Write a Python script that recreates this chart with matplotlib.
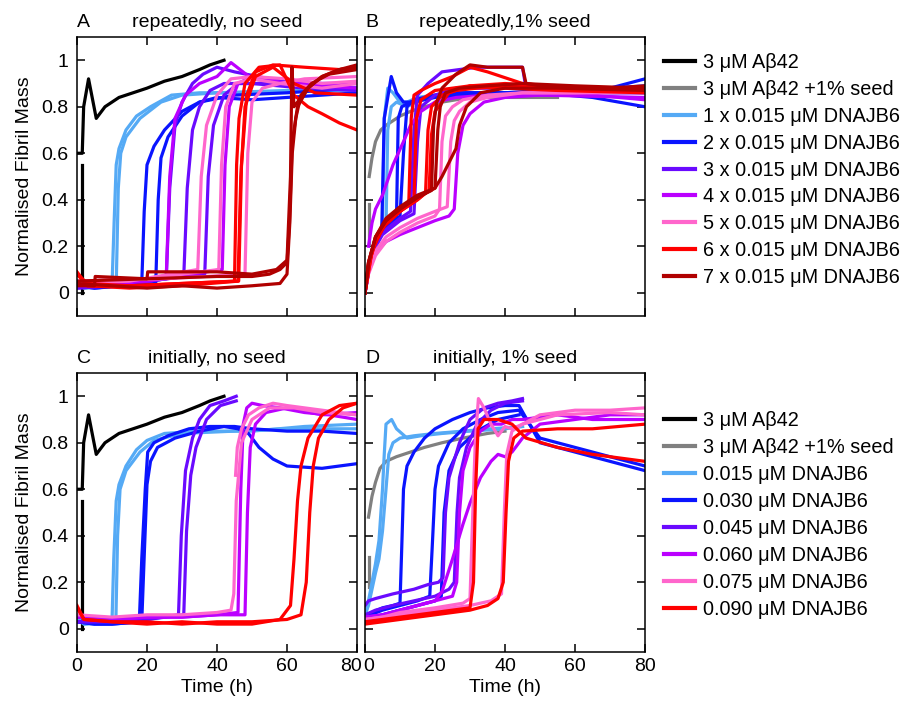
import matplotlib
matplotlib.use("Agg")
import numpy as np
import matplotlib.pyplot as plt
import matplotlib.transforms as mtransforms
from matplotlib.lines import Line2D

plt.rcParams['font.family'] = ['Liberation Sans', 'DejaVu Sans']
plt.rcParams['font.size'] = 14

colors = {
    'black': '#000000', 'gray': '#808080', 'lblue': '#55aaf5', 'blue': '#0a14ff',
    'violet': '#6a0aff', 'magenta': '#bb00ff', 'pink': '#ff66cc', 'red': '#ff0000',
    'dred': '#b00000',
}

# ---- panel A: repeatedly, no seed ----
black_t = [0, 1.5, 1.9, 3.3, 5.5, 8, 12, 16, 20, 25, 30, 35, 38, 42]
black_v = [0.6, 0.6, 0.8, 0.92, 0.75, 0.8, 0.84, 0.86, 0.88, 0.91, 0.93, 0.96, 0.98, 1.0]
black_stub_t = [1.4, 1.4]
black_stub_v = [0.0, 0.55]

panel_a = [
    ('black', black_t, black_v),
    ('black', black_stub_t, black_stub_v),
    ('lblue', [0, 2, 10.0, 10.6, 11.2, 12, 14, 17, 21, 27, 35, 50, 65, 80],
              [0.05, 0.02, 0.03, 0.3, 0.55, 0.62, 0.7, 0.76, 0.8, 0.85, 0.86, 0.86, 0.87, 0.87]),
    ('lblue', [0, 2, 11.2, 11.8, 12.5, 14, 18, 24, 30, 40, 60, 80],
              [0.04, 0.02, 0.03, 0.45, 0.6, 0.67, 0.75, 0.82, 0.85, 0.86, 0.87, 0.88]),
    ('blue', [0, 5, 18.5, 19.2, 20, 22, 25, 30, 35, 40, 50, 60, 70, 80],
             [0.03, 0.02, 0.04, 0.35, 0.55, 0.63, 0.7, 0.78, 0.82, 0.84, 0.83, 0.84, 0.85, 0.86]),
    ('blue', [0, 5, 22.5, 23.2, 24, 26, 30, 35, 45, 60, 80],
             [0.03, 0.02, 0.04, 0.4, 0.58, 0.67, 0.76, 0.82, 0.85, 0.86, 0.88]),
    ('violet', [0, 10, 25.5, 26.5, 28, 30, 33, 36, 40, 45, 55, 70, 80],
               [0.02, 0.03, 0.06, 0.45, 0.72, 0.82, 0.9, 0.94, 0.97, 0.95, 0.92, 0.9, 0.9]),
    ('violet', [0, 10, 30.5, 31.5, 33, 35, 38, 42, 50, 65, 80],
               [0.02, 0.03, 0.07, 0.45, 0.7, 0.8, 0.87, 0.9, 0.9, 0.88, 0.87]),
    ('violet', [0, 15, 36.5, 37.5, 39, 42, 46, 55, 70, 80],
               [0.03, 0.04, 0.08, 0.5, 0.72, 0.85, 0.9, 0.9, 0.89, 0.88]),
    ('magenta', [0, 10, 25.5, 26.5, 28, 31, 35, 40, 44, 50, 60, 80],
                [0.03, 0.03, 0.07, 0.5, 0.75, 0.85, 0.9, 0.93, 0.99, 0.92, 0.9, 0.88]),
    ('magenta', [0, 20, 41.5, 42.3, 43.5, 46, 50, 60, 80],
                [0.04, 0.05, 0.1, 0.55, 0.8, 0.9, 0.93, 0.9, 0.9]),
    ('pink', [0, 15, 34.5, 35.5, 37, 40, 44, 50, 60, 70, 80],
             [0.04, 0.05, 0.1, 0.5, 0.72, 0.85, 0.92, 0.93, 0.92, 0.9, 0.91]),
    ('pink', [0, 20, 40.5, 41.3, 42.5, 45, 50, 58, 70, 80],
             [0.05, 0.06, 0.1, 0.55, 0.8, 0.9, 0.92, 0.9, 0.88, 0.9]),
    ('pink', [0, 25, 48, 48.8, 50, 53, 58, 65, 80],
             [0.05, 0.06, 0.08, 0.6, 0.82, 0.88, 0.9, 0.92, 0.93]),
    ('red', [0, 3, 15, 30, 45, 45.6, 46.3, 48, 52, 58, 62, 66, 70, 75, 80],
            [0.09, 0.03, 0.03, 0.04, 0.05, 0.55, 0.75, 0.9, 0.97, 0.98, 0.85, 0.8, 0.77, 0.73, 0.7]),
    ('red', [0, 3, 15, 30, 46.2, 47, 48.5, 51, 56, 65, 75, 80],
            [0.08, 0.03, 0.02, 0.03, 0.05, 0.55, 0.85, 0.95, 0.98, 0.97, 0.96, 0.97]),
    ('red', [0, 3, 15, 30, 46, 46.8, 48, 51, 56, 62, 68, 80],
            [0.08, 0.04, 0.03, 0.04, 0.05, 0.5, 0.8, 0.93, 0.97, 0.9, 0.86, 0.85]),
    ('dred', [0, 10, 20, 30, 40, 50, 58, 60, 60.8, 61.5, 62.5, 64, 67, 72, 80],
             [0.04, 0.03, 0.02, 0.03, 0.02, 0.03, 0.04, 0.08, 0.3, 0.6, 0.75, 0.85, 0.9, 0.94, 0.96]),
    ('dred', [0, 5, 5.2, 20, 20.2, 40, 50, 57, 60, 61, 61.4, 62, 63, 66, 70, 75, 80],
             [0.03, 0.03, 0.07, 0.06, 0.09, 0.09, 0.08, 0.1, 0.14, 0.5, 0.97, 0.8, 0.82, 0.88, 0.93, 0.96, 0.97]),
    ('dred', [0, 20, 40, 50, 55, 58, 60, 60.7, 61.5, 63, 66, 70, 75, 80],
             [0.05, 0.06, 0.07, 0.07, 0.08, 0.1, 0.13, 0.3, 0.65, 0.8, 0.88, 0.93, 0.96, 0.98]),
]

# ---- panel B: repeatedly, 1% seed ----
panel_b = [
    ('gray', [1, 1], [0.21, 0.38]),
    ('gray', [1.2, 2, 3, 4.5, 6, 8, 10, 13, 17, 22, 30, 40, 50, 55],
             [0.5, 0.58, 0.65, 0.7, 0.72, 0.74, 0.76, 0.78, 0.8, 0.82, 0.84, 0.84, 0.84, 0.84]),
    ('lblue', [0, 1, 2, 4, 5, 5.5, 6.5, 8, 10, 12, 15, 20, 30, 50, 80],
              [0, 0.12, 0.18, 0.25, 0.3, 0.75, 0.88, 0.86, 0.82, 0.82, 0.84, 0.85, 0.86, 0.86, 0.87]),
    ('lblue', [0, 1, 2, 4, 6, 6.5, 7.5, 9, 12, 16, 25, 40, 60, 80],
              [0, 0.1, 0.17, 0.24, 0.28, 0.7, 0.8, 0.82, 0.8, 0.83, 0.86, 0.86, 0.86, 0.86]),
    ('blue', [0, 1, 2, 4, 4.8, 5.5, 7.5, 9, 11, 14, 20, 30, 40, 50, 60, 70, 80],
             [0, 0.1, 0.18, 0.25, 0.28, 0.75, 0.93, 0.86, 0.82, 0.82, 0.84, 0.85, 0.86, 0.87, 0.85, 0.88, 0.92]),
    ('blue', [0, 2, 5, 9, 9.5, 10.5, 13, 18, 25, 35, 50, 65, 80],
             [0, 0.18, 0.27, 0.32, 0.75, 0.8, 0.82, 0.84, 0.86, 0.86, 0.86, 0.84, 0.8]),
    ('blue', [0, 2, 5, 10, 11, 12, 14, 20, 30, 45, 60, 80],
             [0, 0.17, 0.26, 0.33, 0.6, 0.8, 0.83, 0.85, 0.86, 0.86, 0.87, 0.89]),
    ('violet', [0, 2, 5, 10, 13, 14, 15, 18, 22, 27, 32, 38, 45, 46, 55, 70, 80],
               [0, 0.18, 0.26, 0.32, 0.35, 0.7, 0.85, 0.9, 0.95, 0.96, 0.97, 0.97, 0.97, 0.88, 0.87, 0.86, 0.86]),
    ('violet', [0, 2, 5, 10, 14, 15, 16, 20, 26, 35, 45, 60, 80],
               [0, 0.17, 0.25, 0.31, 0.34, 0.65, 0.8, 0.85, 0.88, 0.88, 0.88, 0.87, 0.86]),
    ('magenta', [1, 2, 3, 5, 8, 11, 13, 16, 20, 26, 35, 50, 80],
                [0.2, 0.3, 0.36, 0.42, 0.55, 0.65, 0.72, 0.78, 0.82, 0.84, 0.85, 0.85, 0.84]),
    ('magenta', [0, 1, 3, 6, 10, 15, 20, 24, 25.5, 26.5, 28, 30, 34, 40, 50, 65, 80],
                [0, 0.1, 0.17, 0.22, 0.25, 0.28, 0.31, 0.33, 0.36, 0.6, 0.72, 0.77, 0.82, 0.84, 0.85, 0.85, 0.83]),
    ('pink', [0, 1, 3, 6, 10, 15, 20, 21.3, 22, 23, 25, 28, 35, 45, 60, 80],
             [0, 0.08, 0.16, 0.22, 0.26, 0.3, 0.33, 0.36, 0.65, 0.76, 0.8, 0.83, 0.85, 0.86, 0.86, 0.86]),
    ('pink', [0, 1, 3, 6, 10, 15, 20, 23.5, 24.5, 25.5, 27, 30, 35, 45, 60, 80],
             [0, 0.1, 0.18, 0.24, 0.28, 0.32, 0.35, 0.37, 0.65, 0.74, 0.78, 0.82, 0.84, 0.86, 0.86, 0.87]),
    ('red', [0, 1, 3, 6, 10, 12.5, 13.2, 14, 16, 20, 25, 30, 35, 45, 60, 80],
            [0, 0.12, 0.22, 0.3, 0.35, 0.38, 0.75, 0.85, 0.87, 0.9, 0.93, 0.97, 0.95, 0.9, 0.88, 0.88]),
    ('red', [0, 1, 3, 6, 10, 14, 14.7, 16, 20, 25, 30, 40, 55, 80],
            [0, 0.12, 0.22, 0.3, 0.35, 0.4, 0.75, 0.83, 0.87, 0.88, 0.89, 0.88, 0.87, 0.86]),
    ('red', [0, 2, 5, 10, 15, 17.3, 18, 19, 22, 26, 32, 45, 60, 80],
            [0, 0.18, 0.28, 0.35, 0.4, 0.43, 0.7, 0.8, 0.85, 0.87, 0.88, 0.89, 0.88, 0.88]),
    ('red', [0, 2, 5, 10, 15, 18.3, 19, 20, 24, 30, 40, 60, 80],
            [0, 0.18, 0.28, 0.35, 0.4, 0.44, 0.68, 0.78, 0.86, 0.89, 0.9, 0.88, 0.87]),
    ('dred', [0, 1, 3, 6, 10, 15, 19, 19.6, 20.5, 22, 26, 30, 35, 40, 45, 46, 50, 60, 70, 80],
             [0, 0.13, 0.24, 0.31, 0.36, 0.41, 0.44, 0.72, 0.82, 0.88, 0.94, 0.98, 0.97, 0.97, 0.97, 0.9, 0.89, 0.88, 0.88, 0.89]),
    ('dred', [0, 1, 3, 6, 10, 15, 20, 20.8, 21.5, 23, 27, 35, 45, 60, 80],
             [0, 0.13, 0.24, 0.31, 0.36, 0.41, 0.45, 0.7, 0.8, 0.86, 0.88, 0.89, 0.9, 0.89, 0.88]),
    ('dred', [0, 1, 3, 6, 10, 15, 20, 22, 24, 26, 27, 29, 33, 40, 55, 80],
             [0, 0.13, 0.24, 0.32, 0.37, 0.42, 0.45, 0.5, 0.56, 0.62, 0.72, 0.8, 0.86, 0.88, 0.88, 0.87]),
]

# ---- panel C: initially, no seed ----
panel_c = [
    ('black', black_t, black_v),
    ('black', black_stub_t, black_stub_v),
    ('lblue', [0, 2, 10, 10.5, 11.2, 12, 14, 17, 20, 25, 35, 50, 65, 80],
              [0.05, 0.02, 0.03, 0.3, 0.55, 0.62, 0.7, 0.77, 0.81, 0.84, 0.85, 0.85, 0.87, 0.88]),
    ('lblue', [0, 2, 11.1, 11.6, 12.3, 14, 18, 22, 30, 45, 60, 80],
              [0.04, 0.02, 0.03, 0.4, 0.6, 0.68, 0.76, 0.81, 0.84, 0.85, 0.86, 0.86]),
    ('blue', [0, 5, 10, 17.8, 18.5, 19.5, 20.2, 22, 26, 32, 38, 45, 50, 60, 70, 80],
             [0.03, 0.02, 0.02, 0.03, 0.3, 0.6, 0.76, 0.8, 0.83, 0.86, 0.87, 0.87, 0.86, 0.85, 0.85, 0.84]),
    ('blue', [0, 5, 10, 18.5, 19.3, 20, 21, 23, 28, 35, 42, 46, 49, 52, 56, 60, 70, 80],
             [0.03, 0.02, 0.02, 0.03, 0.35, 0.62, 0.72, 0.78, 0.82, 0.85, 0.87, 0.86, 0.84, 0.78, 0.73, 0.7, 0.69, 0.71]),
    ('violet', [0, 10, 20, 29, 29.8, 31, 33, 35, 38, 42, 45.5],
               [0.03, 0.03, 0.04, 0.06, 0.4, 0.68, 0.82, 0.9, 0.96, 0.98, 1.0]),
    ('violet', [0, 10, 20, 30.5, 31.3, 32.5, 34, 37, 41, 45.5],
               [0.03, 0.03, 0.04, 0.06, 0.42, 0.66, 0.78, 0.9, 0.96, 0.98]),
    ('magenta', [0, 10, 20, 30, 40, 46, 46.8, 47.5, 48.5, 50, 53, 58, 65, 72, 80],
                [0.05, 0.04, 0.05, 0.05, 0.06, 0.07, 0.6, 0.88, 0.95, 0.97, 0.96, 0.95, 0.93, 0.92, 0.9]),
    ('magenta', [0, 10, 20, 30, 40, 48, 48.7, 49.5, 51, 54, 60, 70, 80],
                [0.05, 0.04, 0.05, 0.05, 0.06, 0.06, 0.5, 0.78, 0.88, 0.93, 0.95, 0.92, 0.93]),
    ('pink', [45.3, 45.8, 47, 49, 52, 56, 60, 65, 70, 75, 80],
             [0.66, 0.78, 0.86, 0.92, 0.95, 0.97, 0.96, 0.95, 0.94, 0.93, 0.92]),
    ('pink', [0, 10, 20, 30, 40, 44, 44.8, 45.5, 47, 50, 55, 62, 70, 80],
             [0.06, 0.05, 0.06, 0.06, 0.07, 0.08, 0.15, 0.55, 0.8, 0.9, 0.95, 0.95, 0.93, 0.92]),
    ('red', [0, 2, 10, 20, 30, 40, 50, 58, 61, 62, 63, 64, 66, 70, 75, 80],
            [0.1, 0.04, 0.03, 0.02, 0.03, 0.02, 0.02, 0.04, 0.1, 0.3, 0.55, 0.7, 0.82, 0.92, 0.96, 0.97]),
    ('red', [0, 2, 10, 20, 30, 40, 50, 60, 64, 65.5, 66.5, 67.5, 69, 72, 76, 80],
            [0.09, 0.04, 0.03, 0.03, 0.02, 0.03, 0.03, 0.04, 0.06, 0.2, 0.5, 0.7, 0.82, 0.9, 0.95, 0.97]),
]

# ---- panel D: initially, 1% seed ----
panel_d = [
    ('gray', [1, 1], [0.18, 0.31]),
    ('gray', [1, 2, 3, 4.3, 6, 9, 13, 17, 22, 28, 35, 40],
             [0.48, 0.57, 0.63, 0.69, 0.72, 0.74, 0.76, 0.78, 0.8, 0.82, 0.84, 0.85]),
    ('lblue', [0, 1, 2, 3, 4, 5, 5.5, 6, 7.6, 9, 12, 16, 22, 30, 40, 45],
              [0.05, 0.12, 0.2, 0.28, 0.38, 0.6, 0.75, 0.88, 0.9, 0.86, 0.82, 0.83, 0.84, 0.85, 0.86, 0.87]),
    ('lblue', [0, 1, 2, 3, 4, 5, 6, 6.8, 8, 10, 14, 20, 28, 36, 45],
              [0.06, 0.1, 0.17, 0.24, 0.3, 0.42, 0.6, 0.75, 0.8, 0.82, 0.83, 0.84, 0.85, 0.86, 0.87]),
    ('blue', [0, 2, 5, 8, 10, 10.5, 11, 12, 14, 17, 20, 25, 30, 35, 40, 44, 50, 60, 70, 80],
             [0.05, 0.07, 0.09, 0.1, 0.11, 0.35, 0.6, 0.7, 0.76, 0.82, 0.86, 0.9, 0.93, 0.95, 0.96, 0.96, 0.8, 0.76, 0.72, 0.68]),
    ('blue', [0, 5, 10, 15, 18.5, 19.2, 20, 21, 24, 28, 33, 38, 44, 50, 60, 70, 80],
             [0.05, 0.08, 0.1, 0.12, 0.14, 0.35, 0.6, 0.7, 0.8, 0.86, 0.9, 0.93, 0.94, 0.82, 0.78, 0.74, 0.7]),
    ('blue', [0, 5, 10, 15, 20, 21.8, 22.6, 24, 27, 32, 38, 44],
             [0.04, 0.06, 0.08, 0.1, 0.12, 0.14, 0.5, 0.68, 0.78, 0.85, 0.9, 0.92]),
    ('violet', [0, 1, 3, 8, 14, 18, 21, 22.3, 23, 24, 27, 30, 34, 38, 42, 45],
               [0.1, 0.12, 0.13, 0.15, 0.17, 0.19, 0.2, 0.22, 0.5, 0.65, 0.8, 0.9, 0.95, 0.97, 0.98, 0.99]),
    ('violet', [0, 3, 8, 14, 20, 24, 25.5, 26.3, 27, 29, 32, 36, 40, 45],
               [0.06, 0.08, 0.1, 0.12, 0.14, 0.17, 0.2, 0.5, 0.65, 0.78, 0.88, 0.94, 0.97, 0.98]),
    ('magenta', [0, 5, 10, 15, 20, 22, 25, 28, 30, 33, 36, 38, 40, 42, 45, 50, 60, 70, 80],
                [0.05, 0.06, 0.08, 0.1, 0.12, 0.16, 0.3, 0.45, 0.54, 0.65, 0.72, 0.75, 0.74, 0.76, 0.82, 0.88, 0.9, 0.92, 0.92]),
    ('magenta', [0, 5, 10, 15, 20, 25, 26.2, 27, 28, 30, 33, 36, 39, 42, 45, 55, 65, 80],
                [0.05, 0.06, 0.08, 0.1, 0.12, 0.14, 0.2, 0.5, 0.68, 0.78, 0.85, 0.88, 0.88, 0.9, 0.9, 0.92, 0.9, 0.9]),
    ('pink', [0, 5, 10, 20, 28, 30, 30.8, 31.5, 32.4, 34, 36, 38, 40, 42, 45, 50, 60, 70, 80],
             [0.04, 0.05, 0.07, 0.09, 0.11, 0.13, 0.5, 0.8, 0.99, 0.95, 0.88, 0.83, 0.87, 0.86, 0.88, 0.92, 0.94, 0.94, 0.95]),
    ('pink', [0, 10, 20, 30, 36, 39, 39.8, 40.5, 42, 45, 55, 70, 80],
             [0.04, 0.06, 0.08, 0.1, 0.12, 0.15, 0.5, 0.75, 0.85, 0.88, 0.92, 0.93, 0.92]),
    ('red', [0, 5, 10, 15, 20, 25, 30, 31, 31.6, 32.3, 34, 38, 42, 44, 46, 55, 65, 80],
            [0.03, 0.04, 0.05, 0.06, 0.07, 0.08, 0.09, 0.2, 0.6, 0.86, 0.9, 0.9, 0.88, 0.85, 0.82, 0.78, 0.75, 0.72]),
    ('red', [0, 5, 10, 15, 20, 25, 30, 35, 38, 39.5, 40.3, 41, 42.5, 45, 55, 65, 80],
            [0.02, 0.03, 0.04, 0.05, 0.06, 0.07, 0.08, 0.1, 0.13, 0.2, 0.5, 0.72, 0.82, 0.85, 0.86, 0.86, 0.88]),
]

titles = [('A', 'repeatedly, no seed'), ('B', 'repeatedly,1% seed'),
          ('C', 'initially, no seed'), ('D', 'initially, 1% seed')]

legend_top_labels = ['3 μM Aβ42', '3 μM Aβ42 +1% seed', '1 x 0.015 μM DNAJB6', '2 x 0.015 μM DNAJB6',
                     '3 x 0.015 μM DNAJB6', '4 x 0.015 μM DNAJB6', '5 x 0.015 μM DNAJB6',
                     '6 x 0.015 μM DNAJB6', '7 x 0.015 μM DNAJB6']
legend_top_keys = ['black', 'gray', 'lblue', 'blue', 'violet', 'magenta', 'pink', 'red', 'dred']
legend_bot_labels = ['3 μM Aβ42', '3 μM Aβ42 +1% seed', '0.015 μM DNAJB6', '0.030 μM DNAJB6',
                     '0.045 μM DNAJB6', '0.060 μM DNAJB6', '0.075 μM DNAJB6', '0.090 μM DNAJB6']
legend_bot_keys = ['black', 'gray', 'lblue', 'blue', 'violet', 'magenta', 'pink', 'red']

W, H = 908, 703
fig = plt.figure(figsize=(W / 100, H / 100), dpi=100)

def px_axes(x0, y0, x1, y1):
    return fig.add_axes([x0 / W, 1 - y1 / H, (x1 - x0) / W, (y1 - y0) / H])

axA = px_axes(77, 37, 357, 316)
axB = px_axes(365, 37, 645, 316)
axC = px_axes(77, 373, 357, 652)
axD = px_axes(365, 373, 645, 652)
axes = [axA, axB, axC, axD]
panels = [panel_a, panel_b, panel_c, panel_d]

for i, (ax, traces) in enumerate(zip(axes, panels)):
    for key, t, v in traces:
        ax.plot(t, v, color=colors[key], lw=2.3, solid_joinstyle='round')
    ax.set_xlim(0, 80)
    ax.set_ylim(-0.1, 1.1)
    ax.set_xticks([0, 20, 40, 60, 80])
    ax.set_yticks([0, 0.2, 0.4, 0.6, 0.8, 1.0])
    ax.set_yticklabels(['0', '0.2', '0.4', '0.6', '0.8', '1'])
    ax.tick_params(direction='in', top=True, right=True, length=6, width=1.1, labelsize=14)
    ax.tick_params(axis='y', pad=6)
    ax.tick_params(axis='x', pad=4)
    for s in ax.spines.values():
        s.set_linewidth(1.1)
    letter, title = titles[i]
    ax.text(0.0, 1.02, letter, transform=ax.transAxes, ha='left', va='bottom', fontsize=14)
    ax.text(0.5, 1.02, title, transform=ax.transAxes, ha='center', va='bottom', fontsize=14)
    if i in (1, 3):
        ax.set_yticklabels([])
    else:
        ax.set_ylabel('Normalised Fibril Mass', fontsize=14, labelpad=6)
    if i in (0, 1):
        ax.set_xticklabels([])
    else:
        ax.set_xlabel('Time (h)', fontsize=14, labelpad=3)

# nudge the crowded "80" / "0" labels apart between panels C and D
lab_c = axC.get_xticklabels()[-1]
lab_c.set_transform(lab_c.get_transform() + mtransforms.ScaledTranslation(-6 / 100, 0, fig.dpi_scale_trans))
lab_d = axD.get_xticklabels()[0]
lab_d.set_transform(lab_d.get_transform() + mtransforms.ScaledTranslation(4 / 100, 0, fig.dpi_scale_trans))

def add_legend(keys, labels, yc):
    handles = [Line2D([], [], color=colors[k], lw=3) for k in keys]
    fig.legend(handles, labels, loc='center left', bbox_to_anchor=(664 / W, 1 - yc / H),
               frameon=False, fontsize=14.3, handlelength=1.55, handletextpad=0.4,
               labelspacing=0.4, borderpad=0, borderaxespad=0)

add_legend(legend_top_keys, legend_top_labels, 170)
add_legend(legend_bot_keys, legend_bot_labels, 515)

fig.savefig('out.png', dpi=100)
